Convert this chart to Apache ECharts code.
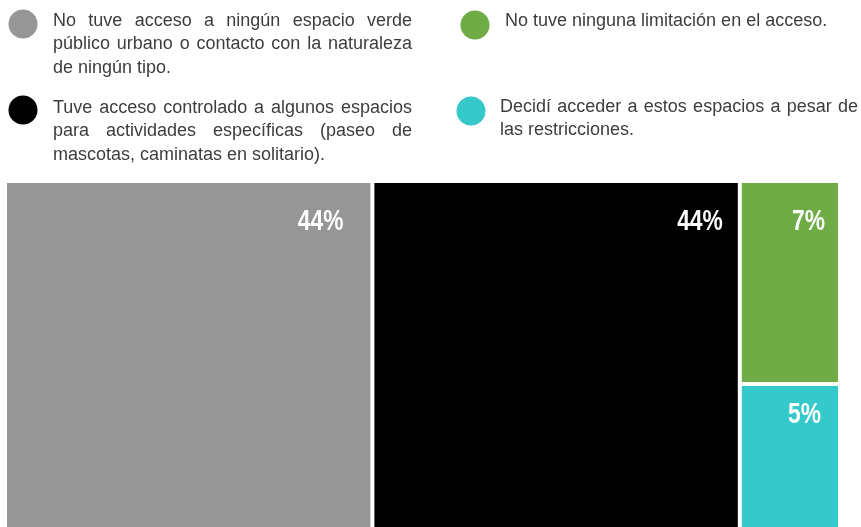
<!DOCTYPE html>
<html>
<head>
<meta charset="utf-8">
<script src="https://cdn.jsdelivr.net/npm/echarts@6/dist/echarts.min.js"></script>
<style>
  html, body { margin: 0; padding: 0; background: #ffffff; }
  #chart { width: 861px; height: 527px; }
</style>
</head>
<body>
<div id="chart"></div>
<script>
// Response categories and their shares (%)
const categories = [
  'Sin acceso',
  'Acceso controlado',
  'Sin limitación',
  'Acceso pese a restricciones'
];
const shares = [44, 44, 7, 5];
const colors = ['#969696', '#000000', '#6fac46', '#36c9cc'];

// Legend texts, one entry per category, pre-broken into lines
const legendLines = [
  ['No tuve acceso a ningún espacio verde',
   'público urbano o contacto con la naturaleza',
   'de ningún tipo.'],
  ['Tuve acceso controlado a algunos espacios',
   'para actividades específicas (paseo de',
   'mascotas, caminatas en solitario).'],
  ['No tuve ninguna limitación en el acceso.'],
  ['Decidí acceder a estos espacios a pesar de',
   'las restricciones.']
];

// Legend block placement: dot centre, text start, first line centre, justified width
const legendLayout = [
  { cx: 23,  cy: 24,  tx: 53,  ty: 21,  width: 359 },
  { cx: 23,  cy: 110, tx: 53,  ty: 108, width: 359 },
  { cx: 475, cy: 25,  tx: 505, ty: 21,  width: 0 },
  { cx: 471, cy: 111, tx: 500, ty: 107, width: 358 }
];

// Value label insets inside each tile: [right, top]
const labelInsets = [[27, 24], [15, 24], [13, 24], [17, 14]];

const legendFont = '18px "Liberation Sans", Arial, sans-serif';
const legendColor = '#3d3d3d';
const lineHeight = 23.5;
const valueFont = 'bold 30px "Liberation Sans", Arial, sans-serif';
const valueScaleX = 0.76;

const measureCtx = document.createElement('canvas').getContext('2d');
measureCtx.font = legendFont;

// Legend dots plus justified text lines (one element per word)
function legendGraphics() {
  const els = [];
  legendLines.forEach((lines, i) => {
    const lay = legendLayout[i];
    els.push({
      type: 'circle',
      shape: { cx: lay.cx, cy: lay.cy, r: 14.5 },
      style: { fill: colors[i] },
      silent: true
    });
    lines.forEach((line, j) => {
      const y = lay.ty + j * lineHeight;
      const isLast = j === lines.length - 1;
      const words = line.split(' ');
      if (!lay.width || isLast || words.length < 2) {
        els.push({
          type: 'text', x: lay.tx, y: y, silent: true,
          style: { text: line, font: legendFont, fill: legendColor, verticalAlign: 'middle', align: 'left' }
        });
        return;
      }
      const widths = words.map(w => measureCtx.measureText(w).width);
      const total = widths.reduce((a, b) => a + b, 0);
      const gap = (lay.width - total) / (words.length - 1);
      let x = lay.tx;
      words.forEach((w, k) => {
        els.push({
          type: 'text', x: x, y: y, silent: true,
          style: { text: w, font: legendFont, fill: legendColor, verticalAlign: 'middle', align: 'left' }
        });
        x += widths[k] + gap;
      });
    });
  });
  return els;
}

const area = { left: 7, top: 183, width: 831, height: 344 };

const chart = echarts.init(document.getElementById('chart'), null, { renderer: 'canvas' });

chart.setOption({
  backgroundColor: '#ffffff',
  animation: false,
  tooltip: { show: false },
  graphic: legendGraphics(),
  series: [{
    type: 'treemap',
    left: area.left,
    top: area.top,
    width: area.width,
    height: area.height,
    sort: false,
    roam: false,
    nodeClick: false,
    silent: true,
    breadcrumb: { show: false },
    levels: [
      { itemStyle: { gapWidth: 4, borderWidth: 0, borderColor: '#ffffff' } },
      { itemStyle: { borderWidth: 0, gapWidth: 0 } }
    ],
    label: { show: false },
    data: categories.map((name, i) => ({
      name: name,
      value: shares[i],
      itemStyle: { color: colors[i] }
    }))
  }]
});

// Condensed value labels, anchored to the tiles the treemap laid out
const tree = chart.getModel().getSeriesByIndex(0).getData().tree;
const valueLabels = tree.root.children.map((node, i) => {
  const l = node.getLayout();
  const inset = labelInsets[i];
  return {
    type: 'text',
    x: area.left + l.x + l.width - inset[0],
    y: area.top + l.y + inset[1],
    scaleX: valueScaleX,
    silent: true,
    z: 100,
    style: {
      text: node.getValue() + '%',
      font: valueFont,
      fill: '#ffffff',
      align: 'right',
      verticalAlign: 'top'
    }
  };
});
chart.setOption({ graphic: legendGraphics().concat(valueLabels) }, { replaceMerge: ['graphic'] });
</script>
</body>
</html>
